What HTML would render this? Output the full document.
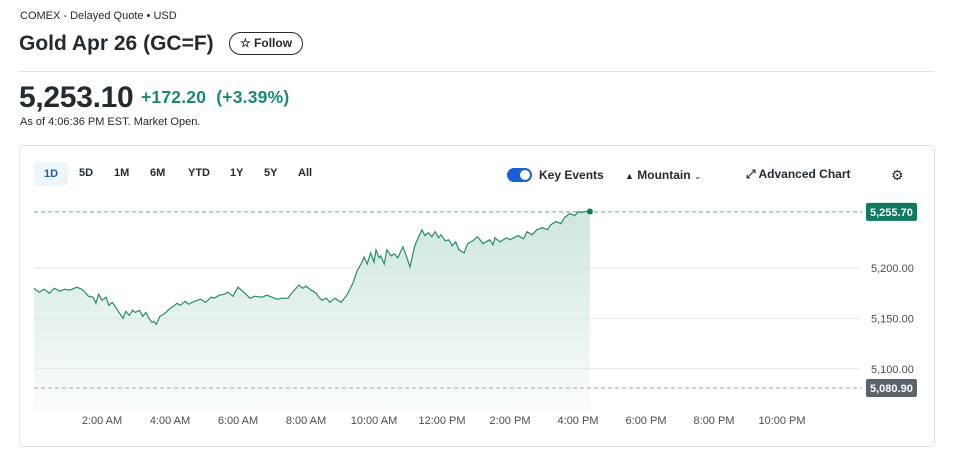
<!DOCTYPE html>
<html><head><meta charset="utf-8"><style>
body{margin:0;width:955px;height:460px;background:#fff;font-family:"Liberation Sans",sans-serif;color:#232a31;position:relative;overflow:hidden}
.a{position:absolute;white-space:nowrap}
.tab{position:absolute;top:167px;font-size:11px;font-weight:bold;color:#232a31}
</style></head><body>
<div class="a" style="left:20px;top:10px;font-size:11px">COMEX - Delayed Quote • USD</div>
<div class="a" style="left:19px;top:32px;font-size:21px;font-weight:bold">Gold Apr 26 (GC=F)</div>
<div class="a" style="left:229px;top:32px;width:72px;height:21px;border:1px solid #232a31;border-radius:12px;font-size:12px;font-weight:bold;line-height:21px;text-align:center">☆ Follow</div>
<div class="a" style="left:19px;top:71px;width:915px;height:1px;background:#e0e4e9"></div>
<div class="a" style="left:19px;top:81px;font-size:30px;font-weight:bold;letter-spacing:-0.3px">5,253.10</div>
<div class="a" style="left:141px;top:87px;font-size:17.5px;font-weight:bold;color:#1a8a6e;letter-spacing:0.2px">+172.20&nbsp; (+3.39%)</div>
<div class="a" style="left:20px;top:116px;font-size:11px">As of 4:06:36 PM EST. Market Open.</div>
<div class="a" style="left:19px;top:145px;width:914px;height:300px;border:1px solid #e0e4e9;border-radius:4px"></div>
<div class="a" style="left:34px;top:162px;width:34px;height:24px;background:#eef5fb;border-radius:4px;color:#1a5fb4;font-size:11px;font-weight:bold;line-height:24px;text-align:center">1D</div>
<div class="tab" style="left:79px">5D</div>
<div class="tab" style="left:114px">1M</div>
<div class="tab" style="left:150px">6M</div>
<div class="tab" style="left:188px">YTD</div>
<div class="tab" style="left:230px">1Y</div>
<div class="tab" style="left:264px">5Y</div>
<div class="tab" style="left:298px">All</div>
<div class="a" style="left:507px;top:168px;width:25px;height:14px;background:#1a5fd8;border-radius:7px"><div style="position:absolute;right:2px;top:2px;width:10px;height:10px;border-radius:5px;background:#fff"></div></div>
<div class="a" style="left:539px;top:168px;font-size:12px;font-weight:bold">Key Events</div>
<div class="a" style="left:625px;top:168px;font-size:12px;font-weight:bold"><span style="font-size:9px">▲</span> Mountain <span style="font-weight:normal;font-size:9px">⌄</span></div>
<div class="a" style="left:746px;top:167px;font-size:12px;font-weight:bold">⤢ Advanced Chart</div>
<div class="a" style="left:891px;top:167px;font-size:14px">⚙</div>
<svg class="a" style="left:0;top:0" width="955" height="460">
<defs><linearGradient id="g" x1="0" y1="0" x2="0" y2="1"><stop offset="0" stop-color="#cfe6df"/><stop offset="1" stop-color="#cfe6df" stop-opacity="0.1"/></linearGradient></defs>
<g id="grid"></g><g id="plot"></g><g id="labels"></g>
</svg>
<script>
const hours=[
0,0.15,0.3,0.45,0.6,0.75,0.9,1.05,1.26,1.4,
1.5,1.6,1.74,1.82,1.9,2.0,2.12,2.2,2.3,2.41,
2.5,2.62,2.7,2.8,2.9,2.97,3.1,3.2,3.29,3.4,
3.47,3.53,3.6,3.7,3.85,4.0,4.1,4.21,4.3,4.45,
4.55,4.65,4.8,4.9,5.05,5.21,5.3,5.45,5.6,5.7,
5.85,6.0,6.1,6.2,6.35,6.5,6.7,6.85,7.0,7.15,
7.3,7.47,7.6,7.79,7.9,8.0,8.15,8.3,8.38,8.47,
8.6,8.7,8.85,9.03,9.2,9.38,9.5,9.55,9.65,9.71,
9.8,9.9,10.0,10.06,10.15,10.2,10.3,10.38,10.5,10.6,
10.7,10.85,10.95,11.06,11.15,11.2,11.3,11.41,11.5,11.6,
11.7,11.8,11.9,11.97,12.1,12.2,12.3,12.4,12.5,12.65,
12.75,12.9,13.05,13.21,13.3,13.4,13.5,13.56,13.7,13.8,
13.9,14.0,14.1,14.24,14.4,14.5,14.65,14.79,14.95,15.1,
15.2,15.35,15.5,15.6,15.75,15.91,16.0,16.1,16.2,16.35];
const prices=[
5180,5176,5179,5175,5180,5177,5179,5178,5181,5179,
5176,5172,5171,5165,5174,5168,5171,5163,5166,5161,
5156,5150,5157,5153,5158,5156,5158,5152,5156,5149,
5146,5147,5144,5152,5155,5160,5162,5165,5163,5167,
5164,5166,5168,5169,5166,5171,5170,5173,5174,5176,
5172,5181,5178,5175,5170,5172,5171,5173,5171,5169,
5170,5170,5176,5183,5180,5182,5178,5175,5171,5168,
5170,5166,5170,5166,5173,5185,5197,5200,5206,5211,
5204,5215,5206,5218,5210,5212,5204,5218,5212,5214,
5210,5221,5212,5201,5215,5222,5230,5238,5232,5235,
5231,5236,5230,5233,5227,5228,5222,5226,5218,5215,
5224,5227,5231,5224,5226,5228,5223,5230,5226,5228,
5230,5228,5230,5232,5229,5236,5233,5238,5240,5238,
5243,5246,5244,5250,5254,5252,5256,5255,5256,5256];
const yTicks=[5200,5150,5100];
const xTicks=["2:00 AM","4:00 AM","6:00 AM","8:00 AM","10:00 AM","12:00 PM","2:00 PM","4:00 PM","6:00 PM","8:00 PM","10:00 PM"];
const lastPrice=5255.70, prevClose=5080.90;
const NS="http://www.w3.org/2000/svg";
const X=h=>34+h*34, Y=p=>268-(p-5200)*1.008;
function mk(par,t,at){const e=document.createElementNS(NS,t);for(const k in at)e.setAttribute(k,at[k]);par.appendChild(e);return e;}
const grid=document.getElementById('grid'),plot=document.getElementById('plot'),lab=document.getElementById('labels');
yTicks.forEach(v=>{const l=mk(grid,'line',{x1:34,x2:860,y1:Y(v),y2:Y(v),stroke:'#e6e9ec'});


const t=mk(lab,'text',{x:871,y:Y(v)+4,'font-size':11,fill:'#464e56'});t.textContent=v.toLocaleString('en-US',{minimumFractionDigits:2});

});
xTicks.forEach((s,i)=>{const t=mk(lab,'text',{x:X(2+2*i),y:424,'font-size':11,fill:'#464e56','text-anchor':'middle'});t.textContent=s;

});
const n=Math.min(hours.length,prices.length);
let d='';for(let i=0;i<n;i++)d+=(i?'L':'M')+X(hours[i]).toFixed(1)+' '+Y(prices[i]).toFixed(1)+' ';
const last=n-1;
const area=mk(plot,'path',{d:d+`L${X(hours[last])} 410 L${X(hours[0])} 410 Z`,fill:'url(#g)'});


[[lastPrice,'#1a8a6e'],[prevClose,'#7a8591']].forEach(([v,c],i)=>{const l=mk(plot,'line',{x1:34,x2:862,y1:Y(v),y2:Y(v),stroke:c,'stroke-dasharray':'4 3','stroke-opacity':0.7});


const r=mk(lab,'rect',{x:866,y:Y(v)-9,width:51,height:18,rx:2,fill:i?'#5b636b':'#0f7a5e'});


const t=mk(lab,'text',{x:870,y:Y(v)+4,'font-size':11,fill:'#fff','font-weight':'bold'});t.textContent=v.toLocaleString('en-US',{minimumFractionDigits:2});

});
const line=mk(plot,'path',{d:d,fill:'none',stroke:'#2a8a72','stroke-width':1.2});


const dot=mk(plot,'circle',{cx:X(hours[last]),cy:Y(prices[last]),r:3,fill:'#0f7a5e'});


</script>
</body></html>
